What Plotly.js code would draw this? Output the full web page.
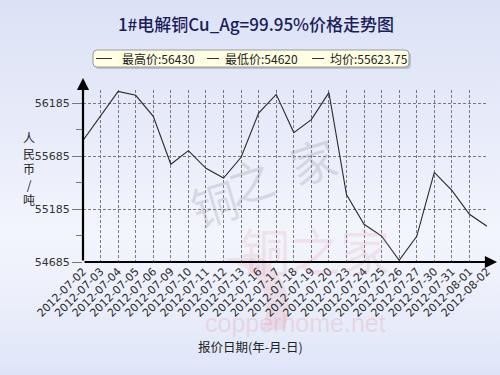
<!DOCTYPE html>
<html>
<head>
<meta charset="utf-8">
<script src="https://cdn.plot.ly/plotly-3.0.1.min.js"></script>
<style>
  html, body { margin: 0; padding: 0; }
  body {
    width: 500px; height: 375px; overflow: hidden;
    background: linear-gradient(to bottom, #dce2f6 0%, #e6eaf9 30%, #f3f5fd 62%, #eef1fb 75%, #dfe5f8 100%);
  }
  #chart { width: 500px; height: 375px; }
</style>
</head>
<body>
<div id="chart"></div>
<script>
// Daily quotes for 1# cathode copper (CNY / tonne)
const dates = [
  '2012-07-02', '2012-07-03', '2012-07-04', '2012-07-05', '2012-07-06',
  '2012-07-09', '2012-07-10', '2012-07-11', '2012-07-12', '2012-07-13',
  '2012-07-16', '2012-07-17', '2012-07-18', '2012-07-19', '2012-07-20',
  '2012-07-23', '2012-07-24', '2012-07-25', '2012-07-26', '2012-07-27',
  '2012-07-30', '2012-07-31', '2012-08-01', '2012-08-02'
];
const prices = [
  55833, 56064, 56295, 56258, 56060,
  55607, 55736, 55569, 55477, 55673,
  56091, 56267, 55906, 56028, 56283,
  55321, 55041, 54930, 54700, 54927,
  55531, 55361, 55135, 55022
];

// Summary figures shown in the header box
const summaryLabels = ['最高价', '最低价', '均价'];
const summaryValues = ['56430', '54620', '55623.75'];

// Value axis ticks
const yTickStart = 54685;
const yTickStep = 500;
const yTop = 56308;

const chartTitle = '1#电解铜Cu_Ag=99.95%价格走势图';
const yTitleChars = ['人', '民', '币', '/', '吨'];
const xTitle = '报价日期(年-月-日)';
const brandChars = ['铜', '之', '家'];
const brandSite = 'copperhome.net';

// Layout geometry (pixels)
const W = 500, H = 375;
const M = { l: 83, r: 13, t: 90, b: 113 };
const plotW = W - M.l - M.r;
const plotH = H - M.t - M.b;
const px = x => (x - M.l) / plotW;           // pixel x -> paper x
const py = y => (H - M.b - y) / plotH;       // pixel y -> paper y

const cjk = '"Noto Sans CJK SC", "Noto Sans", sans-serif';
const sans = '"DejaVu Sans", Verdana, sans-serif';

const trace = {
  x: dates,
  y: prices,
  type: 'scatter',
  mode: 'lines',
  line: { color: '#2a2a2a', width: 1.1 },
  hoverinfo: 'x+y'
};

const shapes = [];
const annotations = [];

// Faint brand marks behind the plot
const brandPos = [[180, 202, 46], [250, 180, 46], [313, 160, 46]];
brandChars.forEach((c, i) => {
  annotations.push({
    xref: 'paper', yref: 'paper', x: px(brandPos[i][0]), y: py(brandPos[i][1]),
    text: c, showarrow: false, textangle: -17,
    font: { family: cjk, size: brandPos[i][2], color: 'rgba(150,150,160,0.28)' }
  });
});
annotations.push({
  xref: 'paper', yref: 'paper', x: px(392), y: py(287),
  text: brandChars.join(''), showarrow: false,
  font: { family: cjk, size: 50, color: 'rgba(226,120,140,0.15)' }
});
annotations.push({
  xref: 'paper', yref: 'paper', x: px(388), y: py(339),
  text: brandSite, showarrow: false,
  font: { family: '"Liberation Sans", Arial, sans-serif', size: 25, color: 'rgba(226,130,150,0.22)' }
});
shapes.push({
  type: 'path', xref: 'paper', yref: 'paper', layer: 'below',
  path: `M ${px(222)} ${py(258)} L ${px(262)} ${py(258)} Q ${px(300)} ${py(290)} ${px(284)} ${py(330)} ` +
        `L ${px(262)} ${py(330)} Q ${px(276)} ${py(292)} ${px(246)} ${py(268)} Z`,
  fillcolor: 'rgba(226,120,140,0.15)', line: { width: 0 }
});

// Header box with the summary figures
const bx0 = 93, bx1 = 409, by0 = 50, by1 = 67, r = 4;
const roundRect = (x0, y0, x1, y1) =>
  `M ${px(x0 + r)} ${py(y0)} L ${px(x1 - r)} ${py(y0)} Q ${px(x1)} ${py(y0)} ${px(x1)} ${py(y0 + r)} ` +
  `L ${px(x1)} ${py(y1 - r)} Q ${px(x1)} ${py(y1)} ${px(x1 - r)} ${py(y1)} ` +
  `L ${px(x0 + r)} ${py(y1)} Q ${px(x0)} ${py(y1)} ${px(x0)} ${py(y1 - r)} ` +
  `L ${px(x0)} ${py(y0 + r)} Q ${px(x0)} ${py(y0)} ${px(x0 + r)} ${py(y0)} Z`;
shapes.push({
  type: 'path', xref: 'paper', yref: 'paper',
  path: roundRect(bx0 + 2, by0 + 2, bx1 + 2, by1 + 2),
  fillcolor: 'rgba(120,120,140,0.35)', line: { width: 0 }
});
shapes.push({
  type: 'path', xref: 'paper', yref: 'paper',
  path: roundRect(bx0, by0, bx1, by1),
  fillcolor: '#ffffe3', line: { color: '#9a9a9a', width: 1 }
});
const itemX = [[96, 112, 120], [207, 219, 223], [312, 324, 328]];
summaryLabels.forEach((lab, i) => {
  shapes.push({
    type: 'line', xref: 'paper', yref: 'paper',
    x0: px(itemX[i][0]), x1: px(itemX[i][1]), y0: py(58.5), y1: py(58.5),
    line: { color: '#333', width: 1 }
  });
  annotations.push({
    xref: 'paper', yref: 'paper', x: px(itemX[i][2]), y: py(58.5),
    xanchor: 'left', yanchor: 'middle', showarrow: false,
    text: lab + ':' + summaryValues[i],
    font: { family: cjk, size: 12, color: '#222' }
  });
});

// Axis arrows
annotations.push({
  xref: 'paper', yref: 'paper', x: 0, y: py(78), ax: 0, ay: 184,
  text: '', showarrow: true, arrowhead: 2, arrowsize: 1.1, arrowwidth: 2.2, arrowcolor: '#000'
});
annotations.push({
  xref: 'paper', yref: 'paper', x: px(497), y: 0, ax: -414, ay: 0,
  text: '', showarrow: true, arrowhead: 2, arrowsize: 1.1, arrowwidth: 2.2, arrowcolor: '#000'
});

// Axis titles
annotations.push({
  xref: 'paper', yref: 'paper', x: px(21), y: py(168),
  text: yTitleChars.join('<br>'), showarrow: false,
  font: { family: cjk, size: 12, color: '#222', lineposition: 'none' }
});
annotations.push({
  xref: 'paper', yref: 'paper', x: px(250), y: py(358),
  text: xTitle, showarrow: false,
  font: { family: cjk, size: 12.5, color: '#222' }
});

const layout = {
  width: W, height: H,
  margin: M,
  paper_bgcolor: 'rgba(0,0,0,0)',
  plot_bgcolor: 'rgba(0,0,0,0)',
  showlegend: false,
  title: {
    text: chartTitle,
    x: 256 / W, xanchor: 'center',
    y: 1 - 25 / H, yanchor: 'middle',
    font: { family: cjk, size: 17, color: '#1c1c5a', weight: 500 }
  },
  xaxis: {
    type: 'category',
    range: [0, dates.length - 1],
    showgrid: true, gridcolor: '#7a7a7a', gridwidth: 1, griddash: '3px,2px',
    showline: false, zeroline: false,
    ticks: '', tickangle: -45,
    tickfont: { family: sans, size: 11, color: '#2a2a2a' },
    fixedrange: true
  },
  yaxis: {
    range: [yTickStart, yTop],
    tick0: yTickStart, dtick: yTickStep,
    showgrid: true, gridcolor: '#7a7a7a', gridwidth: 1, griddash: '3px,2px',
    showline: false, zeroline: false,
    ticks: 'outside', ticklen: 10, tickcolor: '#777', tickwidth: 1,
    minor: { dtick: yTickStep / 2, tick0: yTickStart, ticks: 'outside', ticklen: 6, tickcolor: '#777', showgrid: false },
    tickformat: 'd',
    tickfont: { family: sans, size: 11, color: '#333' },
    fixedrange: true
  },
  shapes: shapes,
  annotations: annotations
};

Plotly.newPlot('chart', [trace], layout, { displayModeBar: false, staticPlot: true });
</script>
</body>
</html>
